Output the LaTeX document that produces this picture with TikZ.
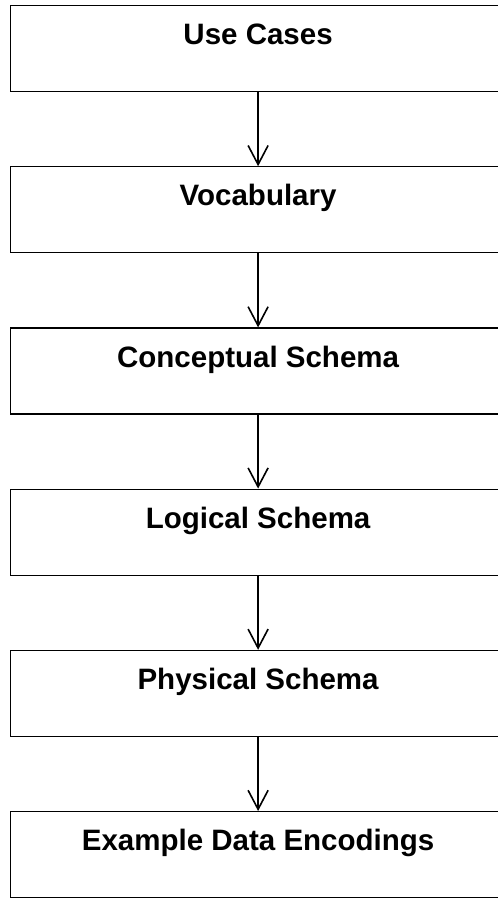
\documentclass[tikz,border=0pt]{standalone}
\usepackage{fontspec}
\setmainfont{Liberation Sans}
\usepackage{tikz}
\usetikzlibrary{positioning, arrows.meta}

\begin{document}
\begin{tikzpicture}[
        node distance=74pt,
        every node/.style={font=\fontsize{29.5}{35}\selectfont\bfseries},
        layer/.style={rectangle, draw=black, line width=1.2pt, inner sep=0pt, minimum width=495pt, text height=39pt, text depth=47pt},
        edge/.style={-{Straight Barb[length=19pt, width=20pt]}, line width=1.6pt}
    ]
        \useasboundingbox (0pt,0pt) rectangle (498pt,-898pt);
        % Layers, top to bottom
        \node[layer, anchor=north west] (usecases) at (10pt,-5pt) {Use Cases};
        \node[layer, below=of usecases] (vocab) {Vocabulary};
        \node[layer, below=of vocab] (concept) {Conceptual Schema};
        \node[layer, below=of concept] (logical) {Logical Schema};
        \node[layer, below=of logical] (physical) {Physical Schema};
        \node[layer, below=of physical] (examples) {Example Data Encodings};
        % Edges between layers
        \draw[edge] (usecases) -- (vocab);
        \draw[edge] (vocab) -- (concept);
        \draw[edge] (concept) -- (logical);
        \draw[edge] (logical) -- (physical);
        \draw[edge] (physical) -- (examples);
    \end{tikzpicture}
\end{document}
